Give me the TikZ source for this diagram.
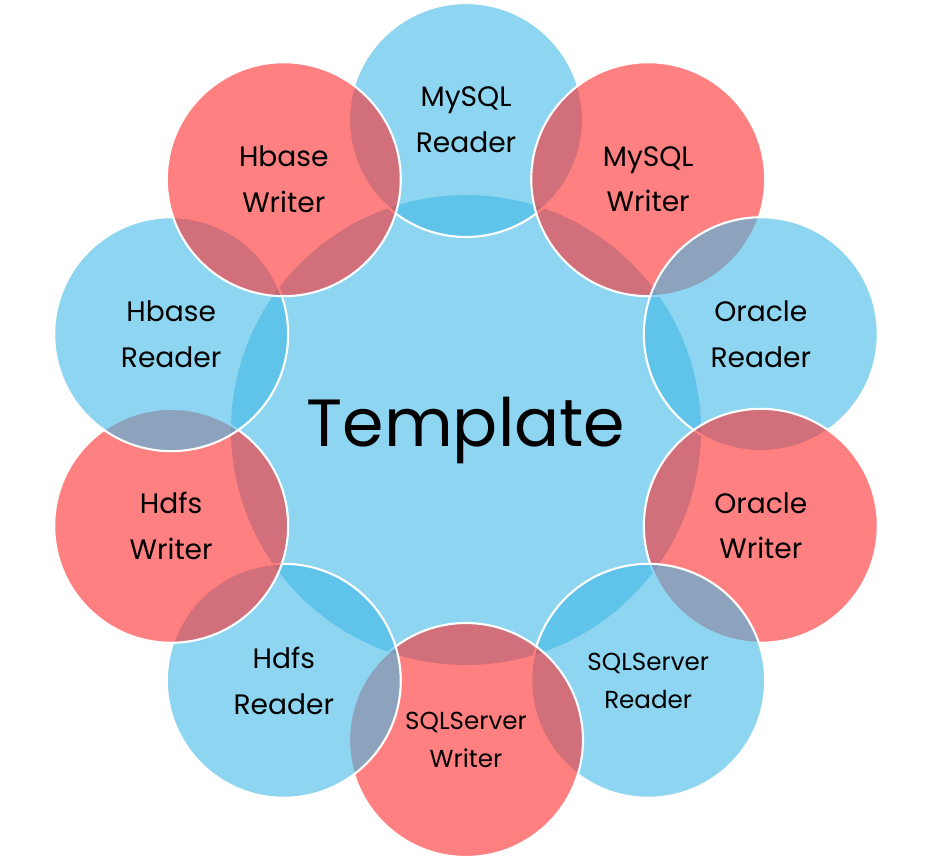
\documentclass[tikz,border=0pt]{standalone}
\usepackage{fontspec}
\setmainfont{Poppins}
\usetikzlibrary{calc}

\definecolor{skyblue}{RGB}{65,185,230}
\definecolor{salmon}{RGB}{255,43,43}

\begin{document}
\begin{tikzpicture}[x=0.02cm,y=-0.02cm,
                    ring/.style={circle,draw=white,line width=1.2pt,
                                 fill opacity=0.6,text opacity=1,
                                 minimum size=4.68cm,align=center,
                                 font=\fontsize{16}{26}\selectfont},
                    reader/.style={ring,fill=skyblue},
                    writer/.style={ring,fill=salmon},
                    small/.style={font=\fontsize{14}{22}\selectfont}]
      \useasboundingbox (0,0) rectangle (931,863);
      \coordinate (O) at (466,430);
      \node[circle,fill=skyblue,fill opacity=0.6,minimum size=9.4cm](T) at (O) {};
      % y is flipped, so angles run clockwise
      \node[reader](MR) at ($(O)+(-90:310)$)         {MySQL\\Reader};
      \node[writer](MW) at ($(O)+(-54:310)$)         {MySQL\\Writer};
      \node[reader](OR) at ($(O)+(-18:310)$)         {Oracle\\Reader};
      \node[writer](OW) at ($(O)+(18:310)$)          {Oracle\\Writer};
      \node[reader,small](SR) at ($(O)+(54:310)$)    {SQLServer\\Reader};
      \node[writer,small](SW) at ($(O)+(90:310)$)    {SQLServer\\Writer};
      \node[reader](DR) at ($(O)+(126:310)$)         {Hdfs\\Reader};
      \node[writer](DW) at ($(O)+(162:310)$)         {Hdfs\\Writer};
      \node[reader](BR) at ($(O)+(198:310)$)         {Hbase\\Reader};
      \node[writer](BW) at ($(O)+(234:310)$)         {Hbase\\Writer};
      \node[font=\fontsize{38}{42}\selectfont] at (T) {Template};
\end{tikzpicture}
\end{document}
